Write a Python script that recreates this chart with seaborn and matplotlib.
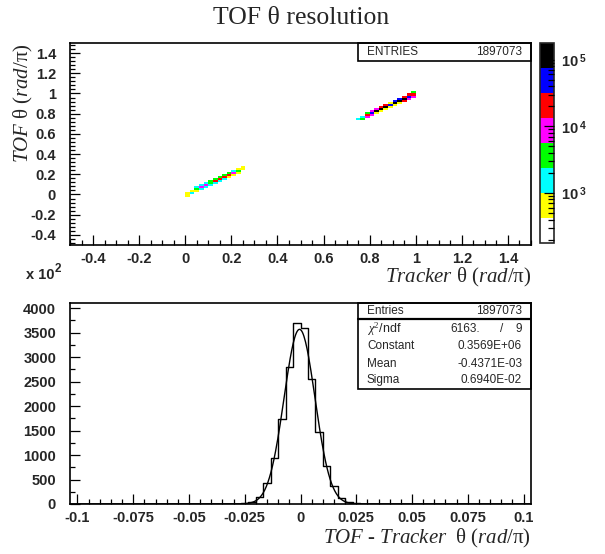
import numpy as np
import matplotlib
matplotlib.use('Agg')
import matplotlib.pyplot as plt
from matplotlib.colors import ListedColormap, LogNorm
from matplotlib.patches import Rectangle
from matplotlib.ticker import MultipleLocator, FuncFormatter
import seaborn as sns

# counts used for each palette band (one cell = one 0.02 x 0.02 bin)
Y, C, G, M, R, B, K = 600, 1500, 3500, 8000, 20000, 50000, 120000

# low theta band: x bin centres, counts below / on / above the diagonal
low_x = [0.01, 0.03, 0.05, 0.07, 0.09, 0.11, 0.13, 0.15, 0.17, 0.19, 0.21, 0.23, 0.25]
low_below = [Y, C, Y, C, C, C, C, C, C, Y, Y, Y, 0]
low_diag = [Y, Y, G, M, M, G, R, R, R, R, M, G, Y]
low_above = [0, 0, C, C, C, G, G, G, G, G, C, Y, Y]

# high theta band
high_x = [0.75, 0.77, 0.79, 0.81, 0.83, 0.85, 0.87, 0.89, 0.91, 0.93, 0.95, 0.97, 0.99]
high_below = [0, G, M, M, Y, Y, Y, Y, Y, Y, R, M, M]
high_diag = [C, C, R, B, K, K, K, B, K, K, K, B, R]
high_above = [0, 0, G, M, M, R, R, Y, B, B, R, R, G]

entries = 1897073

# TOF - Tracker difference: 62 bins of width 1/300 from -31/300 to 31/300, in units of 10^2
diff_heights = ([0] * 22
                + [2, 10, 47, 140, 436, 934, 1737, 2806, 3706]
                + [3600, 2550, 1480, 770, 370, 130, 47, 10, 2]
                + [0] * 22)
fit_const = 0.3569e6
fit_mean = -0.4371e-3
fit_sigma = 0.6940e-2
chi2 = 6163
ndf = 9

palette = ['white', '#ffff00', '#00ffff', '#00ff00', '#ff00ff', '#ff0000', '#0000ff', 'black']

sns.set_style('ticks')
plt.rcParams['font.family'] = ['Liberation Sans', 'DejaVu Sans']
plt.rcParams['axes.unicode_minus'] = False
plt.rcParams['mathtext.fontset'] = 'custom'
plt.rcParams['mathtext.rm'] = 'Liberation Serif'
plt.rcParams['mathtext.it'] = 'Liberation Serif:italic'
plt.rcParams['mathtext.bf'] = 'Liberation Sans:bold'

fig = plt.figure(figsize=(6.05, 5.54), dpi=100)
ax1 = fig.add_axes([0.1157, 0.5578, 0.762, 0.3646])
cax = fig.add_axes([0.8926, 0.5614, 0.0231, 0.361])
ax2 = fig.add_axes([0.1157, 0.0903, 0.762, 0.3634])

# ---- 2D histogram
cell_x, cell_y, cell_w = [], [], []
for xs, below, diag, above in [(low_x, low_below, low_diag, low_above),
                               (high_x, high_below, high_diag, high_above)]:
    for x, counts in zip(xs, zip(below, diag, above)):
        for off, c in zip((-0.02, 0.0, 0.02), counts):
            if c > 0:
                cell_x.append(x)
                cell_y.append(x + off)
                cell_w.append(c)

cmap = ListedColormap(palette)
norm = LogNorm(vmin=10 ** 2.25, vmax=10 ** 5.25)
sns.histplot(x=cell_x, y=cell_y, weights=cell_w, bins=100,
             binrange=((-0.5, 1.5), (-0.5, 1.5)), cmap=cmap, cbar=False, ax=ax1)
mesh = ax1.collections[0]
mesh.set_norm(norm)
cbar = fig.colorbar(mesh, cax=cax)
ax1.set_xlim(-0.5, 1.5)
ax1.set_ylim(-0.5, 1.5)


def fmt(v, pos):
    v = round(v, 6)
    if v == 0:
        return '0'
    return f'{v:g}'


for ax in (ax1, ax2):
    for s in ax.spines.values():
        s.set_visible(True)
        s.set_linewidth(1.2)
        s.set_color('black')
    ax.tick_params(which='both', direction='in', top=False, right=False,
                   width=0.9, color='black')
    ax.tick_params(which='major', length=7)
    ax.tick_params(which='minor', length=3.5)
    ax.tick_params(axis='y', pad=10)
    ax.tick_params(axis='x', pad=5)

ax1.set_xticks(np.round(np.arange(-0.4, 1.41, 0.2), 2))
ax1.set_yticks(np.round(np.arange(-0.4, 1.41, 0.2), 2))
ax1.xaxis.set_minor_locator(MultipleLocator(0.05))
ax1.yaxis.set_minor_locator(MultipleLocator(0.04))
ax1.set_xlabel('')
ax1.set_ylabel('')

# colorbar styling
cax.set_axisbelow(False)
cbar.minorticks_on()
cax.tick_params(which='both', direction='in', right=True, left=False, color='black', width=0.9)
cax.tick_params(which='major', length=7, pad=5)
cax.tick_params(which='minor', length=4)
cax.yaxis.set_major_formatter(FuncFormatter(lambda v, p: r'$\mathbf{10}^{\ \mathbf{%d}}$' % round(np.log10(v))))
cbar.outline.set_linewidth(1.2)
for lab in cax.get_yticklabels():
    lab.set_fontsize(10.5)

# stat box top
ax1.add_patch(Rectangle((0.625, 0.911), 0.375, 0.089, transform=ax1.transAxes,
                        fill=False, lw=1.2, ec='black', clip_on=False, zorder=5))
ax1.text(0.644, 0.955, 'ENTRIES', transform=ax1.transAxes, fontsize=8.5, va='center')
ax1.text(0.9805, 0.955, f'{entries}', transform=ax1.transAxes, fontsize=8.5, va='center', ha='right')

serif_it = dict(fontsize=15, family='Liberation Serif')
ax1.text(1.0, -0.163, r'$\mathit{Tracker}\ \mathrm{θ}\ \mathit{(rad/}\mathrm{π}\mathit{)}$',
         transform=ax1.transAxes, ha='right', va='center', **serif_it)
ax1.text(-0.101, 1.0, r'$\mathit{TOF}\ \mathrm{θ}\ \mathit{(rad/}\mathrm{π}\mathit{)}$',
         transform=ax1.transAxes, ha='center', va='top', rotation=90, **serif_it)

# ---- 1D difference histogram
edges = np.arange(-31, 32) / 300
centers = (edges[:-1] + edges[1:]) / 2
sns.histplot(x=centers, weights=diff_heights, bins=len(centers),
             binrange=(edges[0], edges[-1]), element='step', fill=False,
             color='black', linewidth=1.0, ax=ax2)
xs = np.linspace(edges[0], edges[-1], 600)
gauss = fit_const * np.exp(-0.5 * ((xs - fit_mean) / fit_sigma) ** 2) / 100
sns.lineplot(x=xs, y=gauss, color='black', linewidth=1.0, ax=ax2)
ax2.set_xlim(edges[0], edges[-1])
ax2.set_ylim(0, 4114)
ax2.set_xlabel('')
ax2.set_ylabel('')
ax2.set_xticks(np.round(np.arange(-0.1, 0.1001, 0.025), 3))
ax2.xaxis.set_minor_locator(MultipleLocator(0.005))
ax2.set_yticks(np.arange(0, 4001, 500))
ax2.yaxis.set_minor_locator(MultipleLocator(250))

for ax in (ax1, ax2):
    ax.xaxis.set_major_formatter(FuncFormatter(fmt))
    ax.yaxis.set_major_formatter(FuncFormatter(fmt))
    for lab in ax.get_xticklabels() + ax.get_yticklabels():
        lab.set_fontweight('bold')
        lab.set_fontsize(10.5)

ax2.text(1.0, -0.169, r'$\mathit{TOF\ ‐\ Tracker}\ \ \mathrm{θ}\ \mathit{(rad/}\mathrm{π}\mathit{)}$',
         transform=ax2.transAxes, ha='right', va='center', **serif_it)

# stat box bottom
ax2.add_patch(Rectangle((0.625, 0.570), 0.375, 0.430, transform=ax2.transAxes,
                        fill=False, lw=1.2, ec='black', clip_on=False, zorder=5))
ax2.plot([0.625, 1.0], [0.9175, 0.9175], transform=ax2.transAxes, color='black', lw=1.6, zorder=5)
rows = [('Entries', f'{entries}', 0.959),
        ('Constant', f'{fit_const / 1e6:.4f}E+06', 0.785),
        ('Mean', '-0.4371E-03', 0.695),
        ('Sigma', '0.6940E-02', 0.616)]
for name, val, yy in rows:
    ax2.text(0.644, yy, name, transform=ax2.transAxes, fontsize=8.5, va='center')
    ax2.text(0.9805, yy, val, transform=ax2.transAxes, fontsize=8.5, va='center', ha='right')
ax2.text(0.644, 0.869, r'$\chi^2$/ndf', transform=ax2.transAxes, fontsize=9, va='center')
ax2.text(0.889, 0.869, f'{chi2}.', transform=ax2.transAxes, fontsize=8.5, va='center', ha='right')
ax2.text(0.937, 0.869, '/', transform=ax2.transAxes, fontsize=8.5, va='center', ha='center')
ax2.text(0.9805, 0.869, f'{ndf}', transform=ax2.transAxes, fontsize=8.5, va='center', ha='right')

# multiplier label
fig.text(26 / 605, 1 - 275 / 554, 'x 10', fontsize=10.5, fontweight='bold', va='center')
fig.text(55 / 605, 1 - 269 / 554, '2', fontsize=8.5, fontweight='bold', va='center')

fig.text(0.497, 1 - 18 / 554, 'TOF θ resolution', fontsize=18.5, family='Liberation Serif',
         ha='center', va='center')

fig.savefig('out.png', dpi=100)
